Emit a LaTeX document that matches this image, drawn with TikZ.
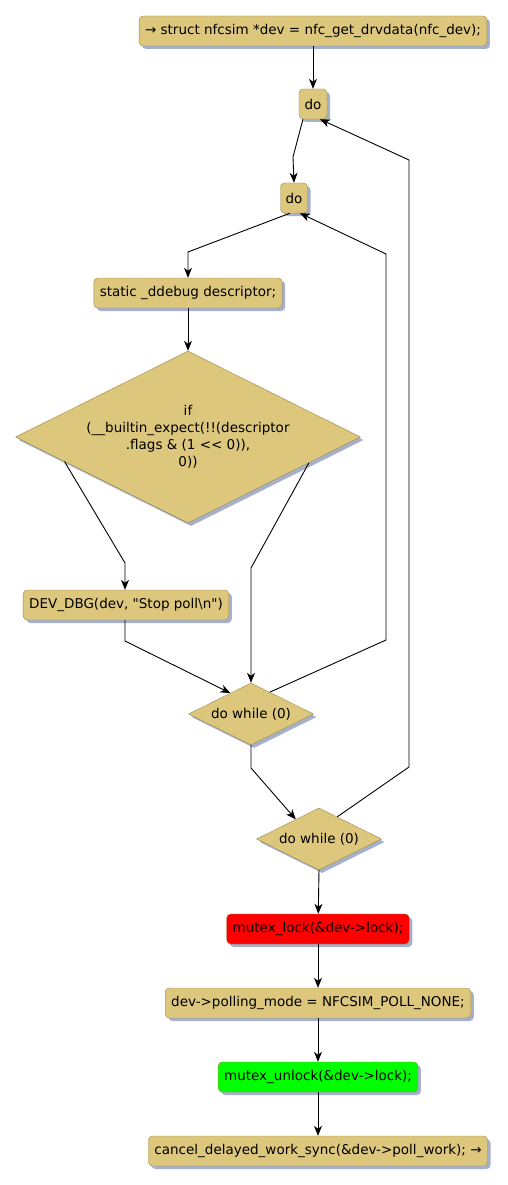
\documentclass[tikz,border=0pt]{standalone}
\usepackage{fontspec}
\setmainfont{DejaVu Sans}
\usetikzlibrary{arrows.meta,calc,shapes.geometric,shadows}
\definecolor{stmtfill}{RGB}{220,199,125}
\definecolor{stmtdraw}{RGB}{160,138,72}
\definecolor{shadowc}{RGB}{165,176,204}
\definecolor{lockred}{RGB}{255,0,0}
\definecolor{unlockgreen}{RGB}{0,255,0}
\begin{document}
\begin{tikzpicture}[
  x=1pt, y=-1pt,
  stmt/.style={draw=stmtdraw, fill=stmtfill, rectangle, rounded corners=4pt, minimum height=30pt, inner xsep=6pt, font=\fontsize{13.5}{17}\selectfont, drop shadow={shadow xshift=3pt, shadow yshift=-3pt, fill=shadowc, opacity=1}},
  cond/.style={draw=stmtdraw, fill=stmtfill, diamond, aspect=2, inner sep=0pt, align=center, font=\fontsize{13.5}{17}\selectfont, drop shadow={shadow xshift=3pt, shadow yshift=-3pt, fill=shadowc, opacity=1}},
  arrow/.style={-{Stealth[length=10pt,width=8pt,inset=3pt]}, line width=0.9pt}
]
  \useasboundingbox (0,0) rectangle (508,1185);

  % Nodes
  \node[stmt] (getdrv) at (313,31) {→ struct nfcsim *dev = nfc\_get\_drvdata(nfc\_dev);};
  \node[stmt, minimum width=28pt, inner xsep=2pt] (outerdo) at (313,104) {do};
  \node[stmt, minimum width=27pt, inner xsep=2pt] (innerdo) at (294,198) {do};
  \node[stmt] (descr) at (188,293) {static \_ddebug descriptor;};
  \node[cond, minimum width=345pt, minimum height=172pt] (ifflag) at (188,437) {if\\(\_\_builtin\_expect(!!(descriptor\\.flags \& (1 <{}< 0)),\\0))};
  \node[stmt] (devdbg) at (126,605) {DEV\_DBG(dev, \textquotedbl Stop poll\textbackslash n\textquotedbl )};
  \node[cond, minimum width=125pt, minimum height=62pt] (innerwhile) at (251,714) {do while (0)};
  \node[cond, minimum width=125pt, minimum height=62pt] (outerwhile) at (319,839) {do while (0)};
  \node[stmt, fill=lockred] (lock) at (318,929) {mutex\_lock(\&dev->lock);};
  \node[stmt] (pollmode) at (318,1003) {dev->polling\_mode = NFCSIM\_POLL\_NONE;};
  \node[stmt, fill=unlockgreen] (unlock) at (318,1077) {mutex\_unlock(\&dev->lock);};
  \node[stmt] (cancel) at (318,1151) {cancel\_delayed\_work\_sync(\&dev->poll\_work); →};

  % Arrows
  \draw[arrow] (getdrv) -- (outerdo);
  \draw[arrow] ([xshift=-10pt]outerdo.south) -- (293,157) -- (innerdo.north);
  \draw[arrow] ([xshift=-4pt]innerdo.south) -- (188,252) -- (descr.north);
  \draw[arrow] (descr) -- (ifflag.north);
  \draw[arrow] ($(ifflag.west)!0.285!(ifflag.south)$) -- (125,563) -- (devdbg.north -| 125,0);
  \draw[arrow] ($(ifflag.east)!0.3!(ifflag.south)$) -- (251,568) -- (innerwhile.north);
  \draw[arrow] (devdbg.south -| 125,0) -- (125,641) -- ($(innerwhile.west)!0.67!(innerwhile.north)$);
  \draw[arrow] ($(innerwhile.north)!0.3!(innerwhile.east)$) -- (386,640) -- (386,254) -- ([xshift=6pt]innerdo.south);
  \draw[arrow] (innerwhile.south) -- (251,768) -- ($(outerwhile.west)!0.63!(outerwhile.north)$);
  \draw[arrow] ($(outerwhile.north)!0.29!(outerwhile.east)$) -- (409,767) -- (409,160) -- ([xshift=7pt]outerdo.south);
  \draw[arrow] (outerwhile.south) -- (lock);
  \draw[arrow] (lock) -- (pollmode);
  \draw[arrow] (pollmode) -- (unlock);
  \draw[arrow] (unlock) -- (cancel);
\end{tikzpicture}
\end{document}
